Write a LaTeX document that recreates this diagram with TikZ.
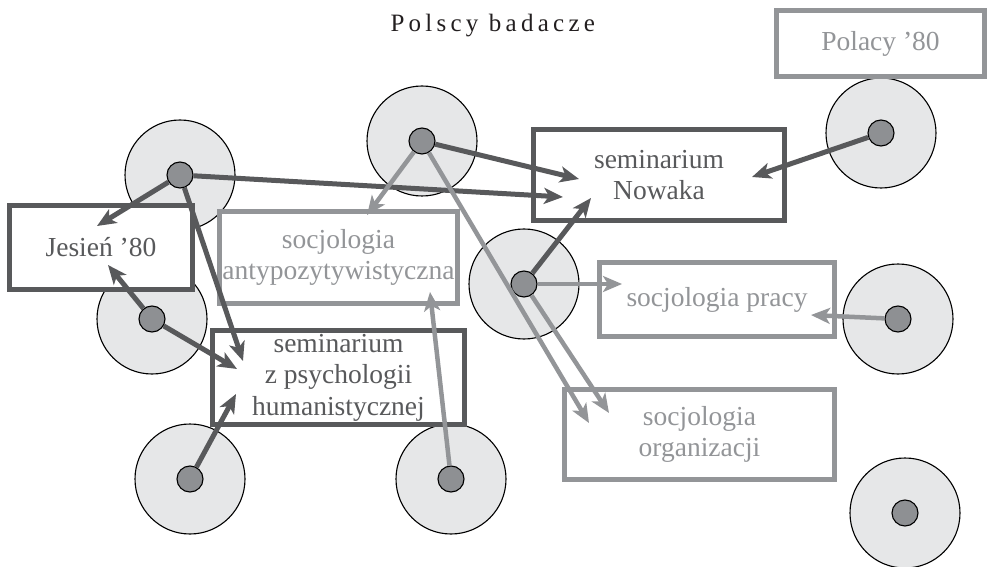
\documentclass[tikz,border=0pt]{standalone}
\usepackage{fontspec}
\setmainfont{Liberation Serif}
\usetikzlibrary{arrows.meta}
\definecolor{darkgr}{HTML}{58595B}
\definecolor{lightgr}{HTML}{939598}
\definecolor{ringgr}{HTML}{E6E7E8}
\definecolor{hubgr}{HTML}{8E9093}
\definecolor{titlegr}{HTML}{231F20}

\begin{document}
\begin{tikzpicture}[x=1pt,y=-1pt,>={Stealth[length=19pt,width=16pt,inset=5pt]},
  ring/.style={draw=black,line width=1.1pt,fill=ringgr},
  hub/.style={circle,draw=black,line width=1.1pt,fill=hubgr,minimum size=26pt,inner sep=0pt},
  box/.style={line width=5pt,fill=white,align=center,inner sep=0pt,
    font=\fontsize{27.5}{31.5}\selectfont},
  darkbox/.style={box,draw=darkgr,text=darkgr},
  lightbox/.style={box,draw=lightgr,text=lightgr},
  darkarrow/.style={->,draw=darkgr,line width=5pt},
  lightarrow/.style={->,draw=lightgr,line width=4.5pt}]

\useasboundingbox (0,0) rectangle (989,567);

\node[anchor=base west,text=titlegr,font=\fontsize{25}{30}\selectfont] (title) at (387,32)
  {\addfontfeature{LetterSpace=17}Polscy badacze};

%Circles
\foreach \x/\y in {180/175,422/141,152/319,190/479,451/479,524/284,881/133,898/319,905/513}
  \draw[ring] (\x,\y) circle[radius=55pt];

%Boxes
\node[darkbox,minimum width=183pt,minimum height=84pt] (jesien) at (101,247.5) {Jesień ’80};
\node[lightbox,minimum width=238pt,minimum height=92pt] (antypoz) at (338.5,257.5)
  {socjologia\\antypozytywistyczna};
\node[darkbox,minimum width=252pt,minimum height=94pt] (psych) at (338.5,377.5)
  {seminarium\\z psychologii\\humanistycznej};
\node[darkbox,minimum width=251pt,minimum height=91pt] (nowak) at (659,175)
  {seminarium\\Nowaka};
\node[lightbox,minimum width=235pt,minimum height=74pt] (pracy) at (717,299.5)
  {socjologia pracy};
\node[lightbox,minimum width=270pt,minimum height=90pt] (organiz) at (699.5,434.5)
  {socjologia\\organizacji};
\node[lightbox,minimum width=208pt,minimum height=66pt] (polacy) at (880.5,43.5)
  {Polacy ’80};

\node[hub] (a) at (180,175) {};
\node[hub] (b) at (422,141) {};
\node[hub] (c) at (152,319) {};
\node[hub] (d) at (190,479) {};
\node[hub] (e) at (451,479) {};
\node[hub] (f) at (524,284) {};
\node[hub] (g) at (881,133) {};
\node[hub] (h) at (898,319) {};
\node[hub] (i) at (905,513) {};

%Arrow ends
\coordinate (jesien-a) at (97,226);
\coordinate (jesien-c) at (108,265);
\coordinate (psych-a) at (243,361);
\coordinate (psych-c) at (237,369);
\coordinate (psych-d) at (236,394);
\coordinate (nowak-a) at (563,197);
\coordinate (nowak-b) at (579,179);
\coordinate (nowak-f) at (591,198);
\coordinate (nowak-g) at (752,177);
\coordinate (antypoz-b) at (367,215);
\coordinate (antypoz-e) at (430,292);
\coordinate (organiz-b) at (589,423);
\coordinate (organiz-f) at (609,413);
\coordinate (pracy-f) at (622,284);
\coordinate (pracy-h) at (811,315);

%Arrows
\draw[darkarrow] (a) -- (jesien-a);
\draw[darkarrow] (a) -- (psych-a);
\draw[darkarrow] (a) -- (nowak-a);
\draw[darkarrow] (b) -- (nowak-b);
\draw[darkarrow] (c) -- (jesien-c);
\draw[darkarrow] (c) -- (psych-c);
\draw[darkarrow] (d) -- (psych-d);
\draw[darkarrow] (f) -- (nowak-f);
\draw[darkarrow] (g) -- (nowak-g);
\draw[lightarrow] (b) -- (antypoz-b);
\draw[lightarrow] (b) -- (organiz-b);
\draw[lightarrow] (e) -- (antypoz-e);
\draw[lightarrow] (f) -- (pracy-f);
\draw[lightarrow] (f) -- (organiz-f);
\draw[lightarrow] (h) -- (pracy-h);

\end{tikzpicture}
\end{document}
